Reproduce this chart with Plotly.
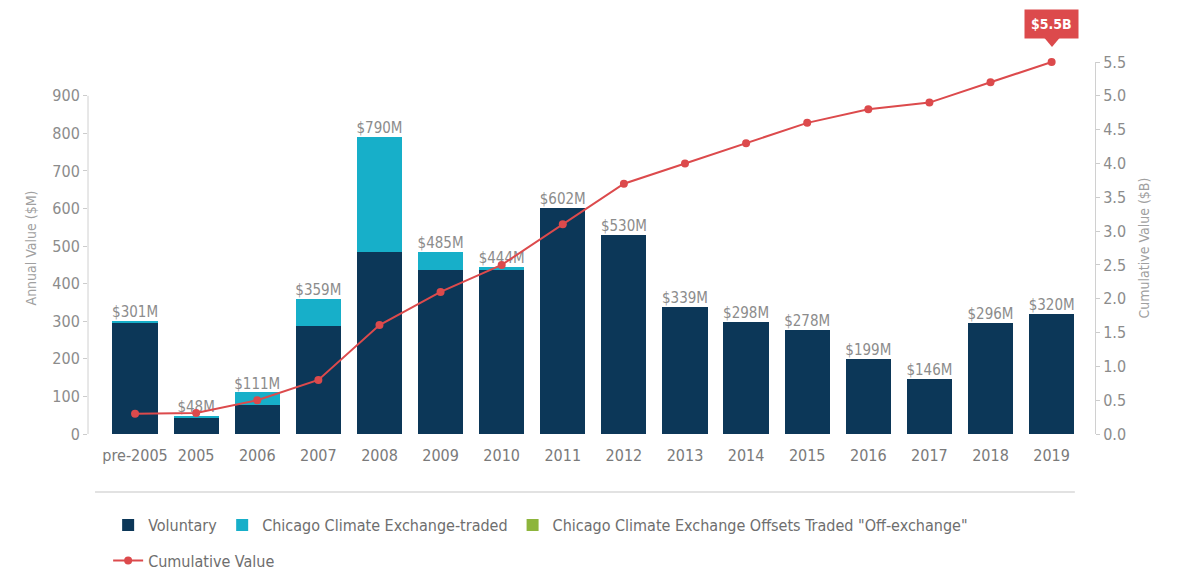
import plotly.graph_objects as go

categories = ["pre-2005", "2005", "2006", "2007", "2008", "2009", "2010", "2011",
              "2012", "2013", "2014", "2015", "2016", "2017", "2018", "2019"]
voluntary = [298, 45, 76, 287, 484, 437, 437, 602, 530, 339, 298, 278, 199, 146, 296, 320]
ccx_traded = [3, 3, 35, 72, 306, 48, 7, 0, 0, 0, 0, 0, 0, 0, 0, 0]
ccx_offex = [0, 0, 0, 0, 0, 0, 0, 0, 0, 0, 0, 0, 0, 0, 0, 0]
totals = [301, 48, 111, 359, 790, 485, 444, 602, 530, 339, 298, 278, 199, 146, 296, 320]
total_labels = ["$301M", "$48M", "$111M", "$359M", "$790M", "$485M", "$444M", "$602M",
                "$530M", "$339M", "$298M", "$278M", "$199M", "$146M", "$296M", "$320M"]
cumulative = [0.30, 0.31, 0.50, 0.80, 1.61, 2.10, 2.50, 3.10, 3.70, 4.00, 4.30, 4.60,
              4.80, 4.90, 5.20, 5.50]
left_ticks = [0, 100, 200, 300, 400, 500, 600, 700, 800, 900]
right_ticks = [0.0, 0.5, 1.0, 1.5, 2.0, 2.5, 3.0, 3.5, 4.0, 4.5, 5.0, 5.5]

FONT = "DejaVu Sans Condensed, Liberation Sans Narrow, sans-serif"
GRAY = "#8c8c8c"
NAVY = "#0c3758"
CYAN = "#17afc9"
GREEN = "#8db53c"
RED = "#dc4a4c"

x = list(range(len(categories)))

fig = go.Figure()
fig.add_trace(go.Bar(x=x, y=voluntary, name="Voluntary", marker_color=NAVY,
                     marker_line_width=0, legend="legend"))
fig.add_trace(go.Bar(x=x, y=ccx_traded, name="Chicago Climate Exchange-traded",
                     marker_color=CYAN, marker_line_width=0, legend="legend"))
fig.add_trace(go.Bar(x=x, y=ccx_offex, name='Chicago Climate Exchange Offsets Traded "Off-exchange"',
                     marker_color=GREEN, marker_line_width=0, legend="legend"))
fig.add_trace(go.Scatter(x=x, y=totals, mode="text", text=total_labels,
                         textposition="top center", showlegend=False,
                         textfont=dict(family=FONT, size=15, color=GRAY), cliponaxis=False))
fig.add_trace(go.Scatter(x=x, y=cumulative, name="Cumulative Value", yaxis="y2",
                         mode="lines+markers", line=dict(color=RED, width=2),
                         marker=dict(color=RED, size=8), cliponaxis=False,
                         legend="legend2"))

fig.update_layout(
    barmode="stack",
    bargap=0.26,
    width=1185, height=571,
    margin=dict(l=88, r=90, t=62, b=137, autoexpand=False),
    plot_bgcolor="white", paper_bgcolor="white",
    font=dict(family=FONT, color=GRAY),
    xaxis=dict(tickmode="array", tickvals=x, ticktext=categories, range=[-0.77, 15.71],
               showline=False, showgrid=False, zeroline=False, ticks="", tickangle=0,
               ticklabelstandoff=10,
               tickfont=dict(size=16, color="#7a7a7a")),
    yaxis=dict(range=[0, 990], tickvals=left_ticks, showgrid=False, zeroline=False,
               showline=False, ticks="outside", ticklen=4, tickcolor="#cccccc",
               tickfont=dict(size=16, color=GRAY),
               title=dict(text="Annual Value ($M)", font=dict(size=14, color="#a0a0a0"), standoff=12)),
    yaxis2=dict(range=[0, 5.5], tickvals=right_ticks, ticktext=[f"{v:.1f}" for v in right_ticks],
                overlaying="y", side="right", showgrid=False, zeroline=False,
                showline=True, linecolor="#d0d0d0", linewidth=1,
                ticks="outside", ticklen=4, tickcolor="#cccccc",
                tickfont=dict(size=16, color=GRAY),
                title=dict(text="Cumulative Value ($B)", font=dict(size=14, color="#a0a0a0"), standoff=14)),
    legend=dict(orientation="h", x=0.02, xanchor="left", y=-0.245, yanchor="middle",
                font=dict(size=16, color="#6e6e6e"), itemwidth=30, tracegroupgap=0,
                traceorder="normal"),
    legend2=dict(orientation="h", x=0.02, xanchor="left", y=-0.34, yanchor="middle",
                 font=dict(size=16, color="#6e6e6e"), itemwidth=30),
    showlegend=True,
)

# left axis line from 0 to 900
fig.add_shape(type="line", xref="paper", yref="y", x0=0, x1=0, y0=0, y1=900,
              line=dict(color="#d0d0d0", width=1))
# separator line above legend
fig.add_shape(type="line", xref="paper", yref="paper", x0=0.007, x1=0.98, y0=-0.156, y1=-0.156,
              line=dict(color="#d8d8d8", width=1.5))
# callout pointer
fig.add_shape(type="path", xref="paper", yref="paper",
              path="M 0.9494 1.066 L 0.9652 1.066 L 0.9573 1.040 Z",
              fillcolor=RED, line=dict(width=0))
fig.add_annotation(x=15, xref="x", y=1.063, yref="paper", yanchor="bottom",
                   text="<b>$5.5B</b>", showarrow=False, bgcolor=RED,
                   font=dict(family=FONT, size=14, color="white"),
                   borderpad=6)

fig.write_html("out.html")
